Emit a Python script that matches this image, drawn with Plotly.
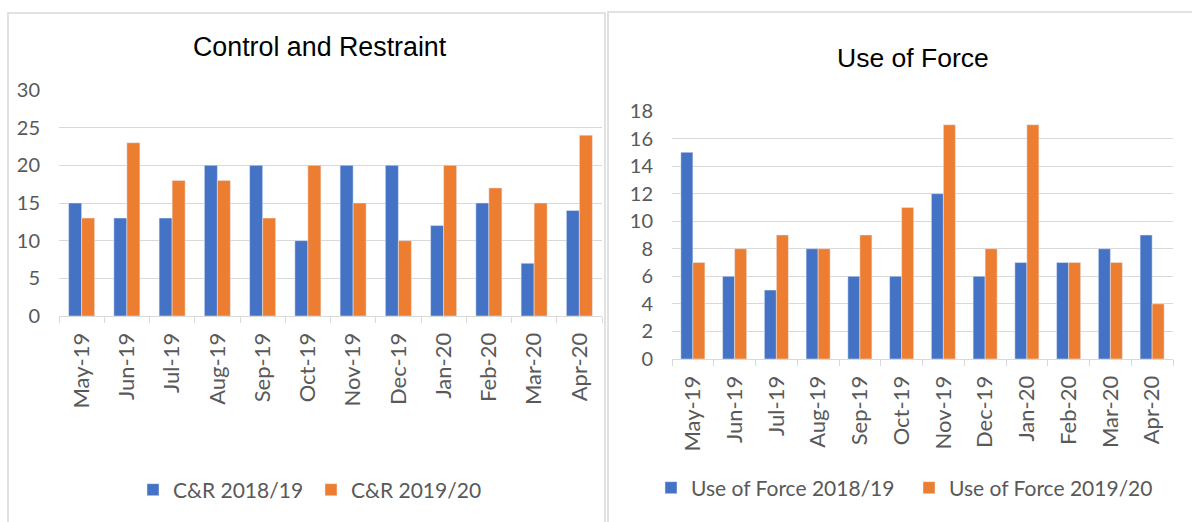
import plotly.graph_objects as go

W, H = 1192, 522

months = ["May-19", "Jun-19", "Jul-19", "Aug-19", "Sep-19", "Oct-19",
          "Nov-19", "Dec-19", "Jan-20", "Feb-20", "Mar-20", "Apr-20"]
cr_1819 = [15, 13, 13, 20, 20, 10, 20, 20, 12, 15, 7, 14]
cr_1920 = [13, 23, 18, 18, 13, 20, 15, 10, 20, 17, 15, 24]
uof_1819 = [15, 6, 5, 8, 6, 6, 12, 6, 7, 7, 8, 9]
uof_1920 = [7, 8, 9, 8, 9, 11, 17, 8, 17, 7, 7, 4]

BLUE = "#4472C4"
ORANGE = "#ED7D31"
GRID = "#D9D9D9"
TXT = "#595959"
YTICKFONT = dict(family="Lato", size=20, color=TXT)
XTICKFONT = dict(family="Lato", size=22, color=TXT)
LEGFONT = dict(family="Lato", size=21, color=TXT)


def px_x(x):
    return x / W


def px_y(y):
    return 1 - y / H


fig = go.Figure()
fig.add_trace(go.Bar(x=months, y=cr_1819, name="C&R 2018/19", marker_color=BLUE,
                     xaxis="x", yaxis="y", legend="legend"))
fig.add_trace(go.Bar(x=months, y=cr_1920, name="C&R 2019/20", marker_color=ORANGE,
                     xaxis="x", yaxis="y", legend="legend"))
fig.add_trace(go.Bar(x=months, y=uof_1819, name="Use of Force 2018/19", marker_color=BLUE,
                     xaxis="x2", yaxis="y2", legend="legend2"))
fig.add_trace(go.Bar(x=months, y=uof_1920, name="Use of Force 2019/20", marker_color=ORANGE,
                     xaxis="x2", yaxis="y2", legend="legend2"))

xcommon = dict(showgrid=False, showline=True, linecolor=GRID, linewidth=1,
               ticks="outside", tickcolor=GRID, ticklen=6, tickson="boundaries",
               tickangle=-90, tickfont=XTICKFONT, ticklabelstandoff=7, fixedrange=True,
               automargin=False)
ycommon = dict(showgrid=True, gridcolor=GRID, gridwidth=1, zeroline=False,
               showline=False, ticks="", tickfont=YTICKFONT, ticklabelstandoff=18,
               automargin=False, fixedrange=True)

fig.update_layout(
    width=W, height=H,
    margin=dict(l=0, r=0, t=0, b=0, autoexpand=False),
    paper_bgcolor="white", plot_bgcolor="white",
    barmode="group", bargap=0.425, bargroupgap=0,
    showlegend=True,
    xaxis=dict(domain=[px_x(59), px_x(602)], anchor="y", **xcommon),
    yaxis=dict(domain=[px_y(316), px_y(90)], anchor="x", range=[0, 30], dtick=5, **ycommon),
    xaxis2=dict(domain=[px_x(672), px_x(1173)], anchor="y2", **xcommon),
    yaxis2=dict(domain=[px_y(359), px_y(111)], anchor="x2", range=[0, 18], dtick=2, **ycommon),
    legend=dict(orientation="h", x=px_x(133), y=px_y(490), xanchor="left", yanchor="middle",
                font=LEGFONT, entrywidth=133, bgcolor="rgba(0,0,0,0)"),
    legend2=dict(orientation="h", x=px_x(651), y=px_y(488), xanchor="left", yanchor="middle",
                 font=LEGFONT, entrywidth=213, bgcolor="rgba(0,0,0,0)"),
    annotations=[
        dict(text="Control and Restraint", x=px_x(320), y=px_y(47), xref="paper", yref="paper",
             showarrow=False, xanchor="center", yanchor="middle",
             font=dict(family="Liberation Sans", size=26.8, color="#000000")),
        dict(text="Use of Force", x=px_x(913), y=px_y(58), xref="paper", yref="paper",
             showarrow=False, xanchor="center", yanchor="middle",
             font=dict(family="Liberation Sans", size=26.5, color="#000000")),
    ],
    shapes=[
        dict(type="rect", xref="paper", yref="paper", x0=px_x(8), x1=px_x(605),
             y0=px_y(13), y1=px_y(540), line=dict(color=GRID, width=1.5)),
        dict(type="rect", xref="paper", yref="paper", x0=px_x(608), x1=px_x(1210),
             y0=px_y(12), y1=px_y(540), line=dict(color=GRID, width=1.5)),
    ],
)

fig.write_html("out.html", config={"displayModeBar": False},
               post_script="document.body.style.margin='0';document.body.style.overflow='hidden';")
